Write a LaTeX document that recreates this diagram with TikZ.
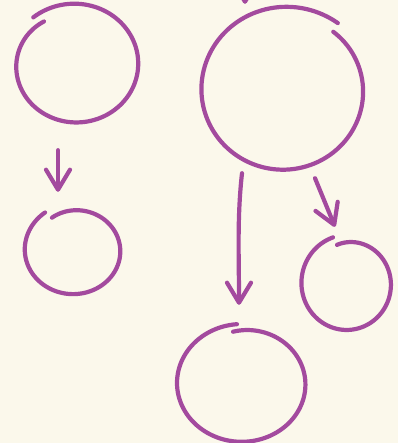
\documentclass[tikz,border=0pt]{standalone}
\usetikzlibrary{shapes.geometric,arrows.meta}
\definecolor{pen}{RGB}{163,74,158}
\definecolor{paper}{RGB}{251,248,235}
\tikzset{declare function={rmp(\t,\a,\b)=1+(\a-1)*(1-\t)*(1-\t)*(1-\t)*(1-\t)*(1-\t)+(\b-1)*\t*\t*\t*\t*\t;}}
% #1 cx #2 cy #3 rx #4 ry #5 start angle #6 sweep #7 start factor #8 end factor
\newcommand\handring[8]{\draw[pen] plot[smooth,samples=120,domain=0:1,variable=\t]
  ({#1+#3*rmp(\t,#7,#8)*cos(#5+#6*\t)},{#2+#4*rmp(\t,#7,#8)*sin(#5+#6*\t)});}
\begin{document}
\begin{tikzpicture}[x=1pt,y=-1pt,
  ring/.style={ellipse,draw=none,inner sep=0pt},
  pen/.style={draw=pen,line width=4.2pt,line cap=round,line join=round},
  arr/.style={pen,-{Straight Barb[length=20pt,width=24pt,round]}}]
\fill[paper] (0,0) rectangle (398,443);
\useasboundingbox (0,0) rectangle (398,443);
\begin{scope}
\clip (0,0) rectangle (398,443);
% invisible named nodes
\node[ring,minimum width=126pt,minimum height=120pt] (A) at (75,65) {};
\node[ring,minimum width=164pt,minimum height=160pt] (B) at (282,90) {};
\node[ring,minimum width=98pt,minimum height=88pt] (C) at (71,251) {};
\node[ring,minimum width=128pt,minimum height=116pt] (D) at (241,382) {};
\node[ring,minimum width=86pt,minimum height=90pt] (E) at (345,283) {};
\coordinate (T0) at (245,-40);
% hand-drawn outlines
\handring{75.5}{64}{62.5}{59}{235}{-366}{0.88}{1.04}
\handring{283.5}{90}{81.5}{80}{-50}{359}{0.95}{1.07}
\handring{73.5}{250.5}{47.5}{43.5}{-121}{357}{0.88}{1.06}
\handring{242}{383}{65}{59}{-99}{365}{0.88}{1.0}
\handring{347}{283.5}{45}{46.5}{-105}{358}{0.86}{1.04}
% connectors
\draw[arr] (T0) -- ([shift={(-37,-6)}]B.north);
\draw[arr] ([shift={(-17,25)}]A.south) -- ([shift={(-13,-15)}]C.north);
\draw[arr] ([shift={(-40,3)}]B.south) .. controls +(-5,45) and +(0,-50) .. ([shift={(-2,-19)}]D.north);
\draw[arr] ([shift={(33,8)}]B.south) -- ([shift={(-10,-11)}]E.north);
\end{scope}
\end{tikzpicture}
\end{document}
